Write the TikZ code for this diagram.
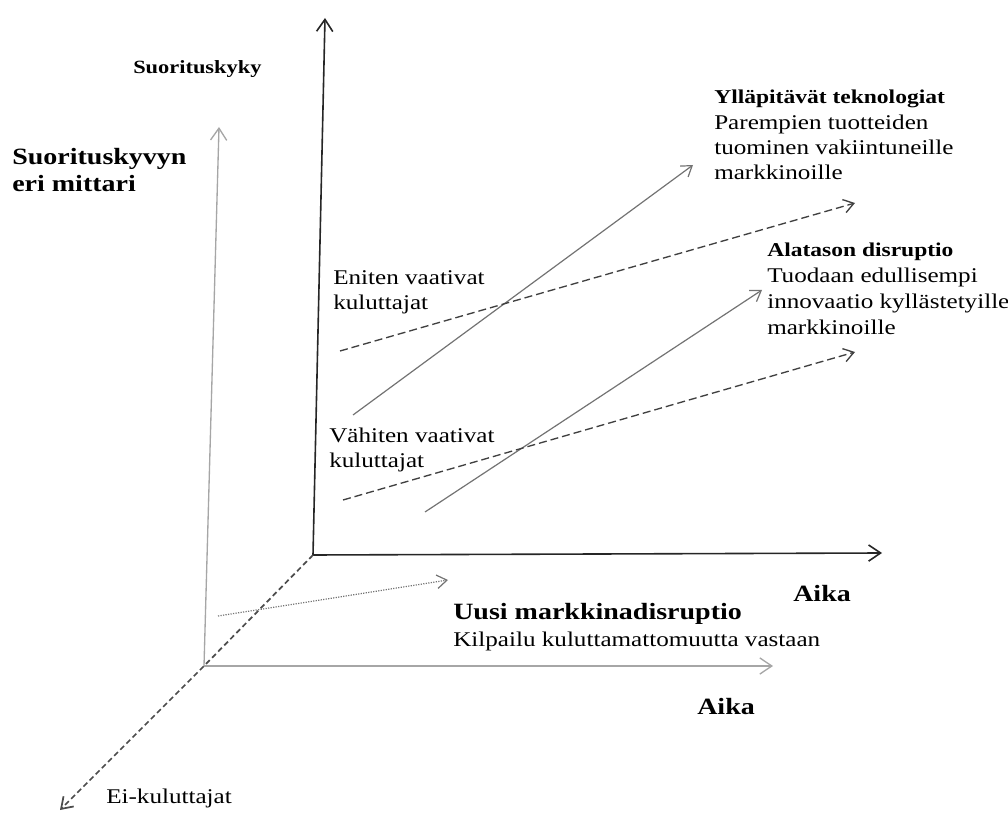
\documentclass[tikz,border=0pt]{standalone}
\usepackage{fontspec}
\setmainfont{Liberation Serif}[FakeStretch=1.2]
\usetikzlibrary{arrows.meta}
\newcommand{\headtext}[1]{{\bfseries\fontsize{14.7}{19}\selectfont #1}}
\tikzset{
  barb/.style={-{Straight Barb[length=#1,width=1.35*#1]}},
  barb/.default=8pt,
  axis/.style={line width=1.2pt, draw=black!85, barb=9pt},
  backaxis/.style={line width=1pt, draw=black!35, barb=9pt},
  trend/.style={line width=0.9pt, draw=black!55, barb=7.5pt},
  need/.style={line width=1pt, draw=black!75, dash pattern=on 6pt off 3pt, barb=7.5pt},
  lbl/.style={anchor=base west, inner sep=0pt, align=left, font=\fontsize{15.7}{19}\selectfont},
  axlbl/.style={lbl, font=\bfseries\fontsize{17.5}{20.25}\selectfont},
}
\begin{document}
\begin{tikzpicture}[x=0.75pt,y=-0.75pt]
  \useasboundingbox (0,0) rectangle (1008,816);
  % axes
  \coordinate (F) at (313,555);
  \coordinate (Fy) at (325,18);
  \coordinate (Fx) at (882,553);
  \coordinate (B) at (204,666);
  \coordinate (By) at (219,127);
  \coordinate (Bx) at (773,666);
  \coordinate (N) at (60,810);
  \draw[backaxis] (B) -- (By);
  \draw[backaxis] (B) -- (Bx);
  \draw[axis] (F) -- (Fy);
  \draw[axis] (F) -- (Fx);
  \draw[line width=1.3pt, draw=black!70, dash pattern=on 4pt off 2.5pt, barb=8pt] (F) -- (B) -- (N);
  % trajectories
  \coordinate (s1) at (353,415);
  \coordinate (t1) at (693,165);
  \coordinate (s2) at (425,512);
  \coordinate (t2) at (762,290);
  \coordinate (d1) at (340,351);
  \coordinate (e1) at (855,203);
  \coordinate (d2) at (343,500);
  \coordinate (e2) at (855,352);
  \coordinate (u1) at (218,616);
  \coordinate (u2) at (448,580);
  \foreach \a/\b in {s1/t1,s2/t2} \draw[trend] (\a) -- (\b);
  \foreach \a/\b in {d1/e1,d2/e2} \draw[need] (\a) -- (\b);
  \draw[trend, densely dotted] (u1) -- (u2);
  % labels (anchored at the baseline of the last line)
  \node[axlbl, font=\bfseries\fontsize{14}{17}\selectfont] (perf) at (133,74) {Suorituskyky};
  \node[axlbl] (perfalt) at (12,192) {Suorituskyvyn\\eri mittari};
  \node[axlbl] (time) at (793,602) {Aika};
  \node[axlbl] (timealt) at (697,715) {Aika};
  \node[lbl] (sustain) at (714,180) {\headtext{Ylläpitävät teknologiat}\\Parempien tuotteiden\\tuominen vakiintuneille\\markkinoille};
  \node[lbl, font=\fontsize{15.7}{19.5}\selectfont] (lowend) at (767,335) {\headtext{Alatason disruptio}\\Tuodaan edullisempi\\innovaatio kyllästetyille\\markkinoille};
  \node[lbl] (high) at (333,310) {Eniten vaativat\\kuluttajat};
  \node[lbl] (low) at (329,468) {Vähiten vaativat\\kuluttajat};
  \node[lbl, font=\fontsize{15.7}{20.25}\selectfont] (newmkt) at (453,647) {{\bfseries\fontsize{17.5}{20.25}\selectfont Uusi markkinadisruptio}\\Kilpailu kuluttamattomuutta vastaan};
  \node[lbl] (nonuser) at (106,803) {Ei-kuluttajat};
\end{tikzpicture}
\end{document}
